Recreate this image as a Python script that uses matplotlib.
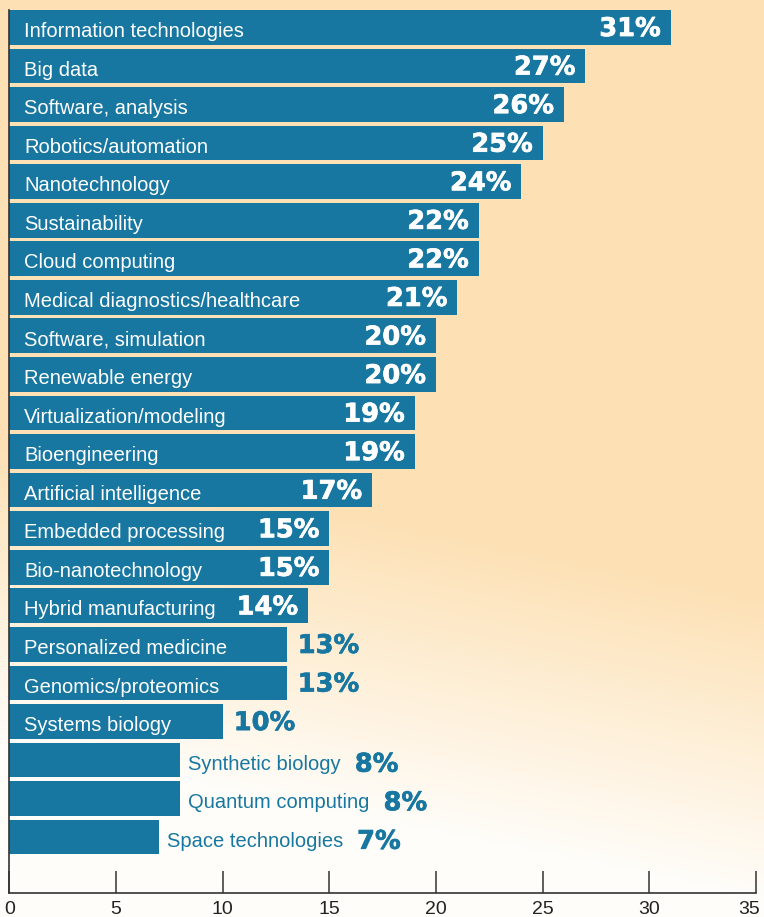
import numpy as np
import matplotlib.pyplot as plt
import matplotlib.patheffects as pe
from matplotlib.colors import LinearSegmentedColormap
from matplotlib.transforms import ScaledTranslation

topics = [
    "Information technologies", "Big data", "Software, analysis",
    "Robotics/automation", "Nanotechnology", "Sustainability",
    "Cloud computing", "Medical diagnostics/healthcare", "Software, simulation",
    "Renewable energy", "Virtualization/modeling", "Bioengineering",
    "Artificial intelligence", "Embedded processing", "Bio-nanotechnology",
    "Hybrid manufacturing", "Personalized medicine", "Genomics/proteomics",
    "Systems biology", "Synthetic biology", "Quantum computing",
    "Space technologies",
]
percent = [31, 27, 26, 25, 24, 22, 22, 21, 20, 20, 19, 19, 17, 15, 15, 14,
           13, 13, 10, 8, 8, 7]
x_ticks = [0, 5, 10, 15, 20, 25, 30, 35]

BAR = "#1877a0"
PEACH = "#fde1b5"
CREAM = "#fffdf9"

fig = plt.figure(figsize=(7.64, 9.17), dpi=100)

# soft peach-to-white wash behind everything
bg = fig.add_axes([0, 0, 1, 1], zorder=-1)
rows, cols = np.mgrid[0:917, 0:764]
t = np.clip((rows - 520 + (380 - cols) * 0.2) / 300.0, 0, 1)
cmap = LinearSegmentedColormap.from_list("wash", [PEACH, CREAM])
bg.imshow(t, cmap=cmap, aspect="auto", vmin=0, vmax=1)
bg.axis("off")

ax = fig.add_axes([0.01217, 0.02617, 0.97730, 0.96292])
ax.set_facecolor("none")

pos = np.arange(len(topics))
ax.barh(pos, percent, height=0.9, color=BAR, zorder=2)
ax.set_xlim(0, 35)
ax.set_ylim(len(topics) + 0.45, -0.45)

name_font = dict(family="Liberation Sans", fontsize=14.5, va="baseline",
                 ha="left", textcoords="offset points", zorder=3)
value_font = dict(family="DejaVu Sans", fontsize=18.5, fontweight="bold",
                  va="center", textcoords="offset points", zorder=3)


def heavy(color):
    # thicken the bold digits a touch
    return [pe.withStroke(linewidth=0.5, foreground=color)]


for i, (name, val) in enumerate(zip(topics, percent)):
    if val >= 10:
        ax.annotate(name, xy=(0, i), xytext=(10.5, -7), color="white",
                    **name_font)
        if val >= 14:
            ax.annotate(f"{val}%", xy=(val, i), xytext=(-7, -1.2), ha="right",
                        color="white", path_effects=heavy("white"),
                        **value_font)
        else:
            ax.annotate(f"{val}%", xy=(val, i), xytext=(8, -1.2), ha="left",
                        color=BAR, path_effects=heavy(BAR), **value_font)
    else:
        lbl = ax.annotate(name, xy=(val, i), xytext=(6, -7), color=BAR,
                          **name_font)
        ax.annotate(f"{val}%", xy=(1, 0), xycoords=lbl, xytext=(10, 6.5),
                    ha="left", color=BAR, path_effects=heavy(BAR),
                    **value_font)

for side in ("top", "right"):
    ax.spines[side].set_visible(False)
for side in ("left", "bottom"):
    ax.spines[side].set_color("#333333")
    ax.spines[side].set_linewidth(1.2)

ax.set_yticks([])
ax.set_xticks(x_ticks)
ax.tick_params(axis="x", direction="in", length=16, width=1.1,
               color="#333333", pad=6, labelsize=14, labelcolor="#222222")
tick_labels = ax.get_xticklabels()
for lab in tick_labels:
    lab.set_family("Liberation Sans")
# nudge the last label so it stays inside the figure edge
tick_labels[-1].set_transform(tick_labels[-1].get_transform()
                              + ScaledTranslation(-5 / 72, 0, fig.dpi_scale_trans))

fig.savefig("out.png", dpi=100)
